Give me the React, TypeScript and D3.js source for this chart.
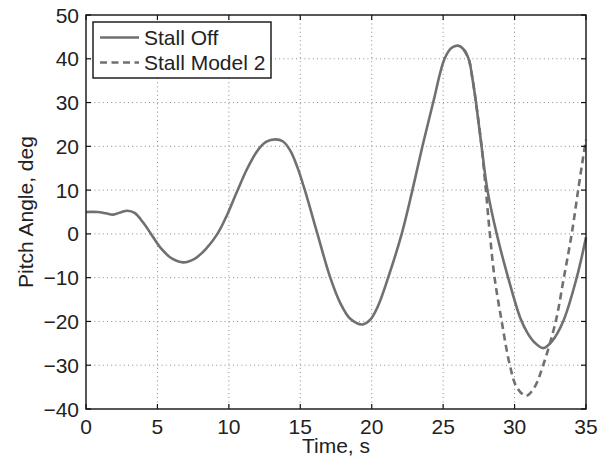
import React from "react";
import * as d3 from "d3";

const offTime = [0, 0.8, 1.4, 1.9, 2.4, 2.9, 3.4, 4.0, 4.55, 5.3, 6.0, 6.8, 7.6, 8.4, 9.2, 9.9, 10.55, 11.3, 12.0, 12.6, 13.25, 13.8, 14.3, 14.8, 15.3, 16.2, 17.1, 17.8, 18.5, 19.35, 19.9, 20.45, 21.15, 22.1, 22.85, 23.55, 24.3, 25.1, 25.6, 26.05, 26.45, 26.8, 27.05, 27.3, 27.69, 28.1, 28.75, 29.55, 30.4, 30.9, 31.4, 32.0, 32.6, 33.4, 34.35, 35];
const offValue = [5, 5, 4.7, 4.4, 4.9, 5.3, 4.8, 2.6, 0, -3.5, -5.6, -6.5, -5.7, -3.4, 0, 4.5, 9.5, 15, 19, 21, 21.6, 21.1, 19.0, 15.2, 10.2, 0, -10, -15.8, -19.4, -20.7, -19.6, -16.4, -10, 0, 10, 20, 30, 40, 42.5, 43, 42.1, 39.8, 35.5, 30, 20, 10, 0, -10, -19.2, -22.6, -24.8, -26.1, -24.6, -20, -10, -0.8];

const m2Time = [26.45, 26.8, 27.05, 27.3, 27.69, 27.99, 28.27, 28.6, 29.1, 29.67, 30.15, 30.8, 31.4, 32.0, 32.88, 33.45, 34.0, 34.45, 34.8, 35];
const m2Value = [42.1, 39.8, 35.5, 30, 20, 10, 0, -10, -20, -30, -35, -37, -35, -30, -20, -10, 0, 10, 17.5, 21.5];

const xTicks = [0, 5, 10, 15, 20, 25, 30, 35];
const yTicks = [-40, -30, -20, -10, 0, 10, 20, 30, 40, 50];
const seriesNames = ["Stall Off", "Stall Model 2"];

const W = 609, H = 460;
const L = 86, R = 586, T = 15, B = 409;
const LINE = "#707070";
const FONT = "'Liberation Sans', Arial, Helvetica, sans-serif";
const FS = 21;

export default function App() {
  const x = d3.scaleLinear().domain([0, 35]).range([L, R]);
  const y = d3.scaleLinear().domain([-40, 50]).range([B, T]);
  const line = d3
    .line<[number, number]>()
    .x((d) => x(d[0]))
    .y((d) => y(d[1]))
    .curve(d3.curveCatmullRom.alpha(0.5));
  const offData = offTime.map((t, i) => [t, offValue[i]] as [number, number]);
  const m2Data = m2Time.map((t, i) => [t, m2Value[i]] as [number, number]);
  const tick = 5;

  return (
    <svg width={W} height={H} style={{ position: "absolute", left: 0, top: 0, background: "#fff" }} fontFamily={FONT}>
      <rect x={0} y={0} width={W} height={H} fill="#fff" />
      {xTicks.filter((t) => t > 0 && t < 35).map((t) => (
        <line key={"gx" + t} x1={x(t)} x2={x(t)} y1={T} y2={B} stroke="#8a8a8a" strokeWidth={1} strokeDasharray="1,3.2" />
      ))}
      {yTicks.filter((t) => t > -40 && t < 50).map((t) => (
        <line key={"gy" + t} x1={L} x2={R} y1={y(t)} y2={y(t)} stroke="#8a8a8a" strokeWidth={1} strokeDasharray="1,3.2" />
      ))}
      <path d={line(offData) || ""} fill="none" stroke={LINE} strokeWidth={2.6} strokeLinejoin="round" />
      <path d={line(m2Data) || ""} fill="none" stroke={LINE} strokeWidth={2.6} strokeDasharray="7,4.5" />
      <rect x={L} y={T} width={R - L} height={B - T} fill="none" stroke="#111" strokeWidth={1.4} />
      {xTicks.map((t) => (
        <g key={"tx" + t}>
          <line x1={x(t)} x2={x(t)} y1={B} y2={B - tick} stroke="#111" strokeWidth={1.2} />
          <line x1={x(t)} x2={x(t)} y1={T} y2={T + tick} stroke="#111" strokeWidth={1.2} />
          <text x={x(t)} y={434} textAnchor="middle" fontSize={FS} fill="#222">{t}</text>
        </g>
      ))}
      {yTicks.map((t) => (
        <g key={"ty" + t}>
          <line x1={L} x2={L + tick} y1={y(t)} y2={y(t)} stroke="#111" strokeWidth={1.2} />
          <line x1={R} x2={R - tick} y1={y(t)} y2={y(t)} stroke="#111" strokeWidth={1.2} />
          <text x={79} y={y(t) + 7.5} textAnchor="end" fontSize={FS} fill="#222">{t < 0 ? "\u2212" + Math.abs(t) : t}</text>
        </g>
      ))}
      <text x={(L + R) / 2} y={453} textAnchor="middle" fontSize={FS} fill="#222">Time, s</text>
      <text transform={`translate(33, ${(T + B) / 2}) rotate(-90)`} textAnchor="middle" fontSize={FS} fill="#222">Pitch Angle, deg</text>
      <rect x={93} y={22} width={178} height={56} fill="#fff" stroke="#111" strokeWidth={1.4} />
      <line x1={100} x2={139} y1={37.5} y2={37.5} stroke={LINE} strokeWidth={2.6} />
      <line x1={100} x2={139} y1={62.5} y2={62.5} stroke={LINE} strokeWidth={2.6} strokeDasharray="7,4.5" />
      <text x={144} y={45} fontSize={FS} fill="#222">{seriesNames[0]}</text>
      <text x={144} y={70} fontSize={FS} fill="#222">{seriesNames[1]}</text>
    </svg>
  );
}
